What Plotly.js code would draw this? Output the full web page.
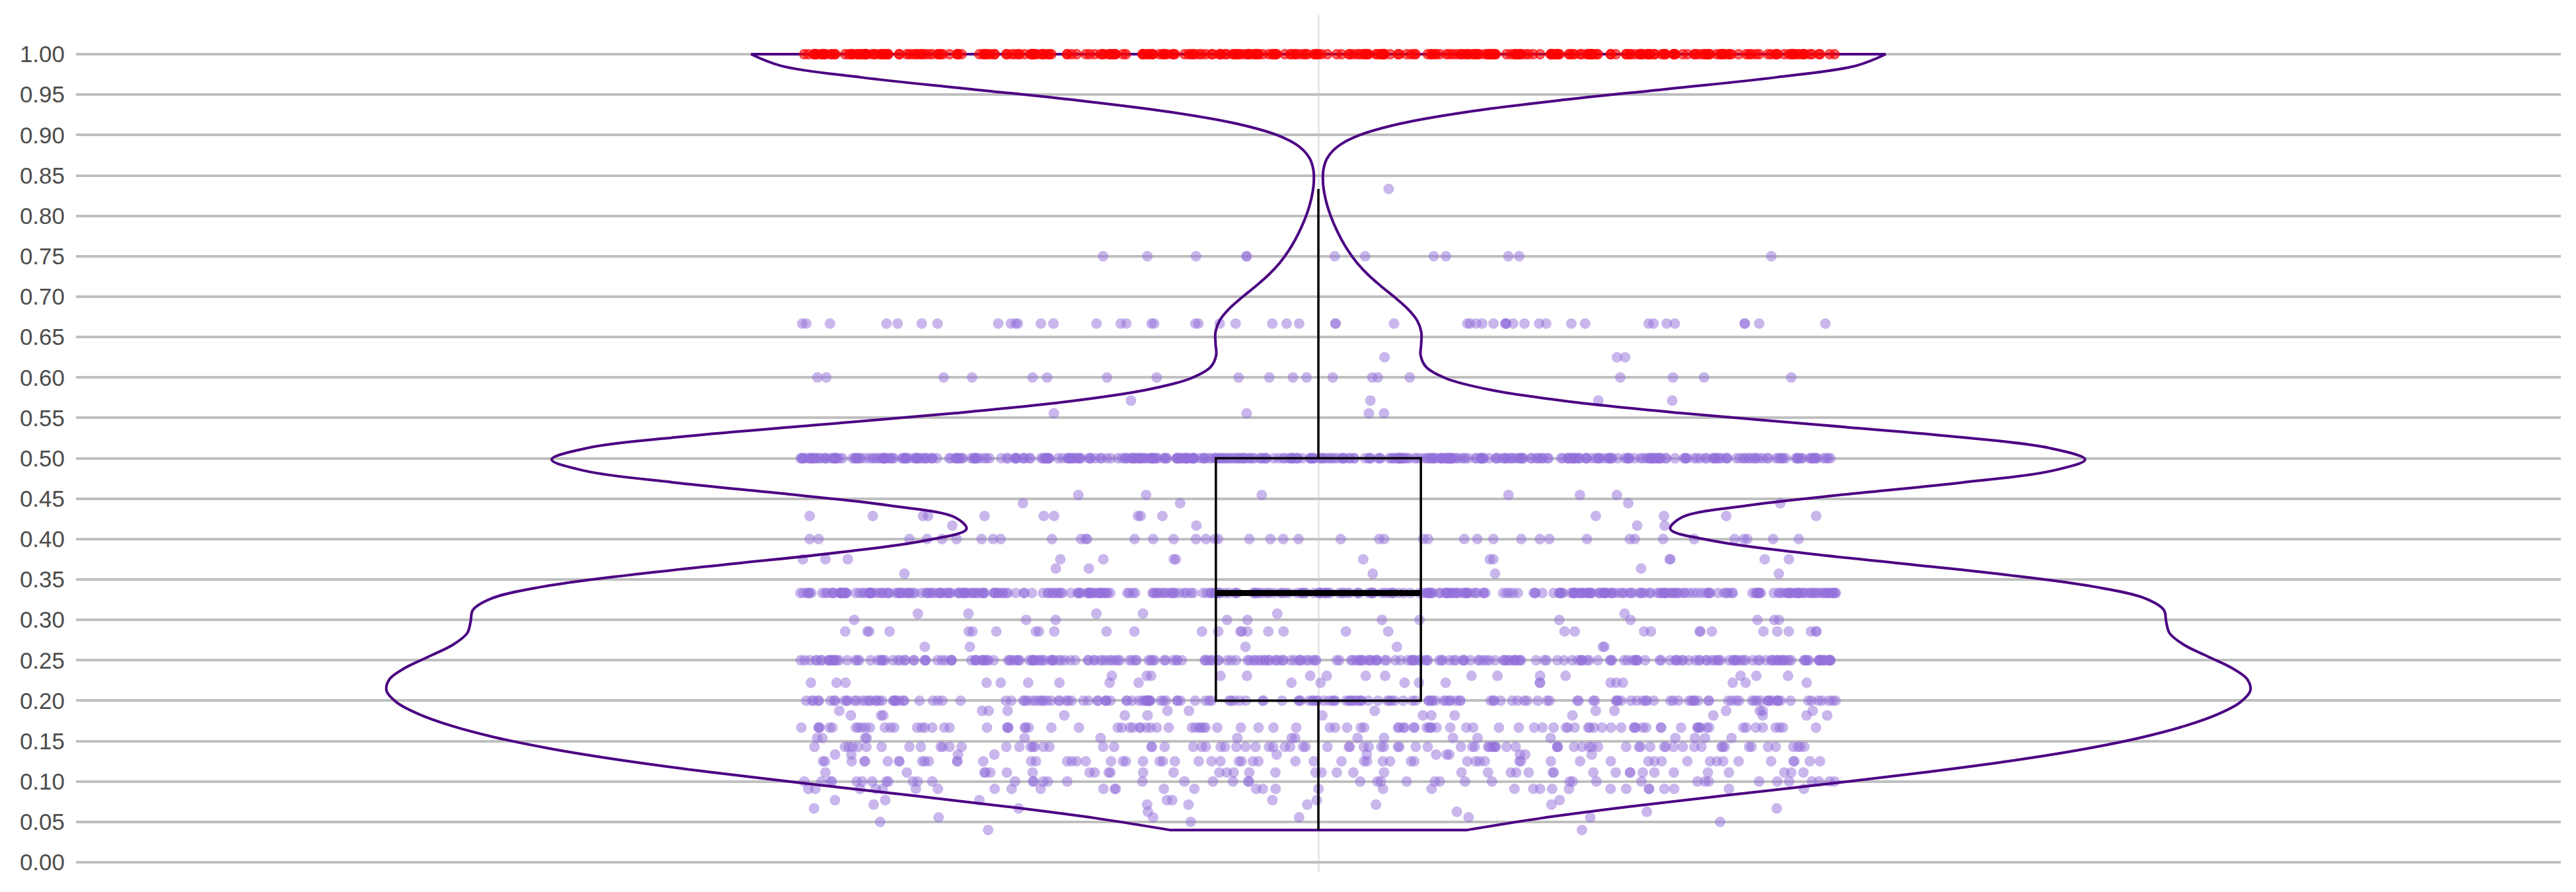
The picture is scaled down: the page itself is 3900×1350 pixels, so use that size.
<!DOCTYPE html>
<html>
<head>
<meta charset="utf-8">
<script src="https://cdn.plot.ly/plotly-3.0.1.min.js"></script>
<style>
    html, body { margin: 0; padding: 0; background: #fff; }
</style>
</head>
<body>
<div id="violinChart" style="width:3900px;height:1350px"></div>
<script>
    // --- DATA: distinct score levels and how many responses sit on each ---
    const scoreLevels = [0.04, 0.05, 0.0556, 0.0625, 0.0667, 0.0714, 0.0769,
        0.0909, 0.1, 0.1111, 0.125, 0.1333, 0.1429, 0.1538, 0.1667,
        0.1818, 0.1875, 0.2, 0.2222, 0.2308, 0.25,
        0.2667, 0.2857, 0.3, 0.3077, 0.3333,
        0.3571, 0.3636, 0.375, 0.4, 0.4167, 0.4286, 0.4444, 0.4545,
        0.5, 0.5556, 0.5714, 0.6, 0.625, 0.6667, 0.75, 0.8333, 1.0];
    const levelCounts = [2, 3, 5, 3, 3, 6, 8,
        34, 46, 42, 65, 12, 90, 18, 105,
        15, 13, 190, 22, 16, 280,
        6, 34, 12, 6, 375,
        4, 3, 14, 45, 4, 14, 4, 6,
        447, 4, 4, 20, 3, 50, 12, 1, 344];
    const yTicks = [0, 0.05, 0.1, 0.15, 0.2, 0.25, 0.3, 0.35, 0.4, 0.45, 0.5,
        0.55, 0.6, 0.65, 0.7, 0.75, 0.8, 0.85, 0.9, 0.95, 1];
    const category = 'score';

    // --- expand to one value per response ---
    const scores = [];
    scoreLevels.forEach((v, i) => {
        for (let k = 0; k < levelCounts[i]; k++) scores.push(v);
    });

    // quartiles / fence, so the regular points and the outliers can be split
    const sorted = scores.slice().sort((a, b) => a - b);
    const quant = p => {
        const pos = p * (sorted.length - 1), lo = Math.floor(pos);
        return sorted[lo] + (sorted[Math.min(lo + 1, sorted.length - 1)] - sorted[lo]) * (pos - lo);
    };
    const q1 = quant(0.25), med = quant(0.5), q3 = quant(0.75);
    const upperFence = q3 + 1.5 * (q3 - q1);
    const inliers = scores.filter(v => v <= upperFence);

    const VIOLIN_WIDTH = 0.75;
    const JITTER = 0.556;
    const BANDWIDTH = 0.0436;

    // regular points (purple), drawn first so the box sits over them
    const pointsTrace = {
        type: 'violin',
        name: category, x0: category,
        y: inliers,
        width: VIOLIN_WIDTH,
        points: 'all', jitter: JITTER, pointpos: 0,
        spanmode: 'hard', bandwidth: BANDWIDTH,
        line: { width: 0, color: 'rgba(0,0,0,0)' },
        fillcolor: 'rgba(0,0,0,0)',
        box: { visible: false },
        meanline: { visible: false },
        marker: { color: 'mediumpurple', size: 14, opacity: 0.5,
                  line: { color: 'mediumpurple', width: 2 } },
        hoverinfo: 'skip'
    };

    // outline + inner box + outliers in red
    const violinTrace = {
        type: 'violin',
        name: category, x0: category,
        y: scores,
        width: VIOLIN_WIDTH,
        points: 'suspectedoutliers', jitter: JITTER, pointpos: 0,
        spanmode: 'hard', bandwidth: BANDWIDTH,
        line: { color: '#4B0082', width: 4 },
        fillcolor: 'rgba(0,0,0,0)',
        box: { visible: true, width: 0.11, fillcolor: 'rgba(0,0,0,0)',
               line: { color: '#000000', width: 3.5 } },
        meanline: { visible: false },
        marker: { size: 14, opacity: 1, color: 'rgba(255,0,0,0.6)',
                  outliercolor: 'rgba(255,0,0,0.6)',
                  line: { outliercolor: 'rgba(255,0,0,0.6)', outlierwidth: 2, width: 2, color: 'rgba(255,0,0,0.6)' } },
        hoverinfo: 'skip'
    };

    // heavier median bar
    const medianTrace = {
        type: 'box',
        x: [category],
        q1: [med], median: [med], q3: [med],
        lowerfence: [med], upperfence: [med],
        width: 0.083,
        boxpoints: false,
        whiskerwidth: 0,
        fillcolor: 'rgba(0,0,0,0)',
        line: { color: '#000000', width: 9 },
        hoverinfo: 'skip'
    };

    const layout = {
        width: 3900, height: 1350,
        margin: { l: 115, r: 23, t: 23, b: 31, pad: 0 },
        paper_bgcolor: '#ffffff', plot_bgcolor: '#ffffff',
        showlegend: false,
        violinmode: 'overlay', boxmode: 'overlay',
        font: { family: '"Liberation Sans", Arial, sans-serif', size: 35, color: '#4d4d4d' },
        xaxis: {
            type: 'category', range: [-0.5, 0.5],
            showticklabels: false, ticks: '',
            showgrid: true, gridcolor: '#e6e6e6', gridwidth: 3,
            zeroline: false, showline: false
        },
        yaxis: {
            range: [-0.0114, 1.0483],
            tickmode: 'array', tickvals: yTicks,
            ticktext: yTicks.map(t => t.toFixed(2)),
            ticks: '', ticklabelstandoff: 16,
            showgrid: true, gridcolor: '#bfbfbf', gridwidth: 4,
            zeroline: false, showline: false
        }
    };

    Plotly.newPlot('violinChart', [pointsTrace, violinTrace, medianTrace], layout,
        { displayModeBar: false, staticPlot: true });
</script>
</body>
</html>
